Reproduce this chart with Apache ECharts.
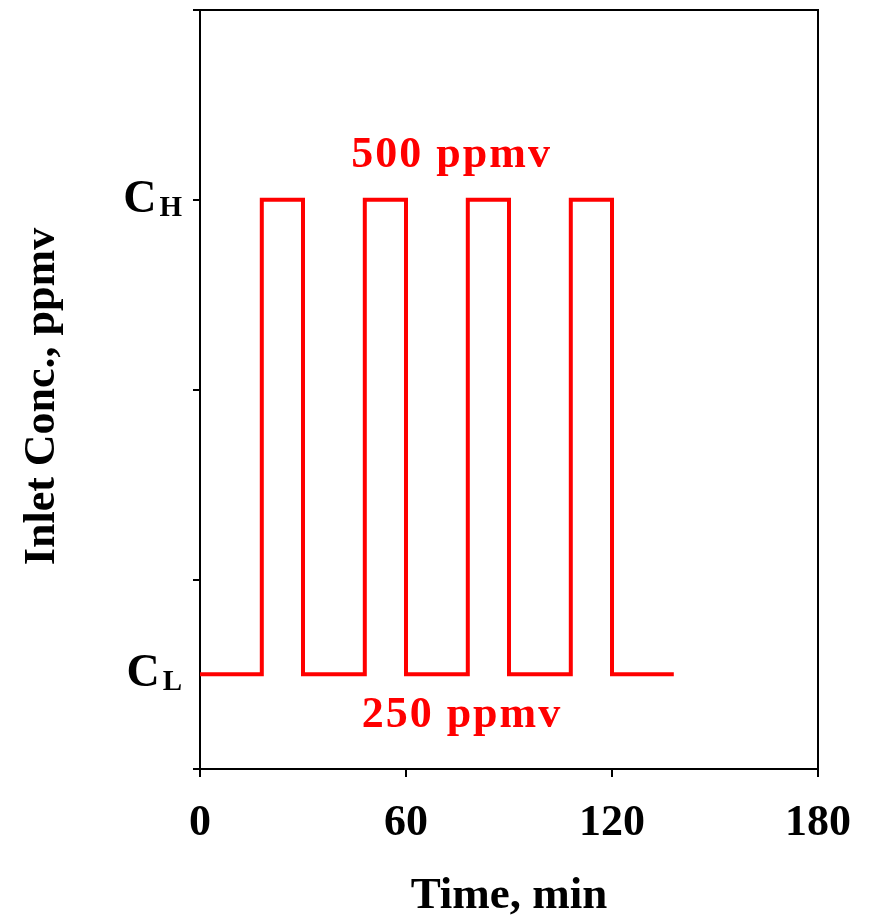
<!DOCTYPE html>
<html>
<head>
<meta charset="utf-8">
<script src="https://cdn.jsdelivr.net/npm/echarts@6/dist/echarts.min.js"></script>
<style>html,body{margin:0;padding:0;background:#fff;}#c{width:869px;height:924px;}</style>
</head>
<body>
<div id="c"></div>
<script>
// Time (min) and inlet concentration level (CL = 50, CH = 300 on the arbitrary axis)
var timeMin = [0, 18, 18, 30, 30, 48, 48, 60, 60, 78, 78, 90, 90, 108, 108, 120, 120, 138];
var conc    = [50, 50, 300, 300, 50, 50, 300, 300, 50, 50, 300, 300, 50, 50, 300, 300, 50, 50];
var xTicks = [0, 60, 120, 180];
var yTickValues = [0, 100, 200, 300, 400];
var yLabelValues = [50, 300];
var yLabelSubs = ['L', 'H'];
var annotations = [
  {name: '500 ppmv', coord: [73, 323]},
  {name: '250 ppmv', coord: [76, 28]}
];

var FONT = 'Liberation Serif';
var chart = echarts.init(document.getElementById('c'));
var data = timeMin.map(function (t, i) { return [t, conc[i]]; });

function spaced(str, cls) {
  return str.split('').map(function (ch) { return '{' + cls + '|' + ch + '}'; }).join('');
}

chart.setOption({
  animation: false,
  grid: {left: 200, right: 51, top: 10, bottom: 148, show: true, borderColor: '#000', borderWidth: 2, backgroundColor: 'transparent'},
  xAxis: {
    type: 'value', min: 0, max: 180, interval: 60,
    axisLine: {lineStyle: {color: '#000', width: 2}},
    axisTick: {show: true, length: 8, lineStyle: {color: '#000', width: 2}, customValues: xTicks},
    axisLabel: {color: '#000', fontFamily: FONT, fontWeight: 'bold', fontSize: 44, margin: 33, customValues: xTicks},
    splitLine: {show: false},
    name: 'Time, min', nameLocation: 'middle', nameGap: 105,
    nameTextStyle: {color: '#000', fontFamily: FONT, fontWeight: 'bold', fontSize: 45}
  },
  yAxis: {
    type: 'value', min: 0, max: 400, interval: 50,
    axisLine: {show: true, lineStyle: {color: '#000', width: 2}},
    axisTick: {show: true, length: 7, lineStyle: {color: '#000', width: 2}, customValues: yTickValues},
    axisLabel: {
      margin: 18, customValues: yLabelValues,
      formatter: function (v) {
        var i = yLabelValues.indexOf(v);
        return i < 0 ? '' : '{c|C}{s|' + yLabelSubs[i] + '}';
      },
      rich: {
        c: {fontFamily: FONT, fontWeight: 'bold', fontSize: 46, lineHeight: 46, color: '#000', verticalAlign: 'top'},
        s: {fontFamily: FONT, fontWeight: 'bold', fontSize: 29, lineHeight: 29, color: '#000', verticalAlign: 'bottom', padding: [19, 0, 0, 3]}
      }
    },
    splitLine: {show: false},
    name: 'Inlet Conc., ppmv', nameLocation: 'middle', nameGap: 135,
    nameTextStyle: {color: '#000', fontFamily: FONT, fontWeight: 'bold', fontSize: 44, padding: [0, 14, 0, 0]}
  },
  series: [{
    type: 'line', data: data, showSymbol: false, symbol: 'none',
    lineStyle: {color: '#ff0000', width: 4, join: 'miter'},
    markPoint: {
      symbol: 'circle', symbolSize: 0,
      label: {
        show: true,
        formatter: function (p) { return spaced(p.name, 'a'); },
        rich: {a: {color: '#ff0000', fontFamily: FONT, fontWeight: 'bold', fontSize: 44, padding: [0, 1, 0, 1]}}
      },
      data: annotations
    }
  }]
});
</script>
</body>
</html>
